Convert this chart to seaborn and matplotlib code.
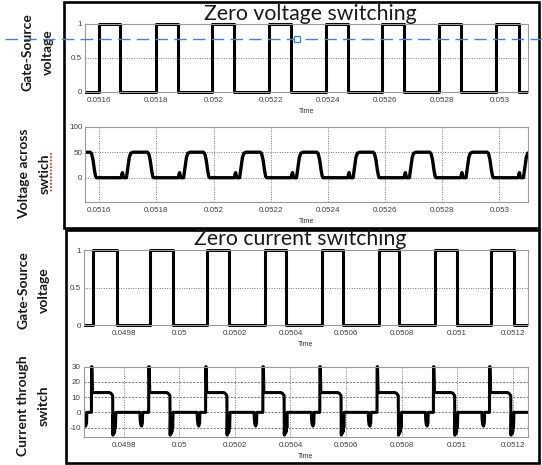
import numpy as np
import pandas as pd
import matplotlib
matplotlib.use('Agg')
import matplotlib.pyplot as plt
import seaborn as sns
from matplotlib.lines import Line2D
from matplotlib.patches import Rectangle
from matplotlib.transforms import Bbox, TransformedBbox

# --- Zero voltage switching ---
zvs_rise = [0.051402, 0.051600, 0.051800, 0.051996, 0.052195, 0.052393,
            0.052590, 0.052788, 0.052989, 0.053187]
zvs_fall = [0.051475, 0.051673, 0.051875, 0.052072, 0.052271, 0.052469,
            0.052667, 0.052867, 0.053067, 0.053262]
# switch voltage around each gate rise: offset in microseconds, level in V
zvs_v_offset = [-32, -27, -22, -17, -13, -10, 77, 79, 81, 83, 85, 95, 100, 105, 110, 118]
zvs_v_level = [50, 47, 35, 15, 3, 0, 0, 7, 10, 5, 0, 0, 20, 40, 48, 50]
zvs_ticks = [0.0516, 0.0518, 0.052, 0.0522, 0.0524, 0.0526, 0.0528, 0.053]
zvs_labels = ['0.0516', '0.0518', '0.052', '0.0522', '0.0524', '0.0526', '0.0528', '0.053']

# --- Zero current switching ---
zcs_rise = [0.049489, 0.049690, 0.049896, 0.050101, 0.050307, 0.050512,
            0.050718, 0.050921, 0.051123, 0.051328]
zcs_fall = [0.049574, 0.049775, 0.049977, 0.050178, 0.050384, 0.050590,
            0.050792, 0.051001, 0.051206, 0.051411]
zcs_i_offset = [-6.5, -6, -4.5, -2.5, 58, 64, 70, 71, 72.5, 74, 75.5, 77, 78.5, 80, 81.5,
                168, 169, 171, 174, 177, 178]
zcs_i_level = [0, 30, 30, 13, 13, 12.5, 11, -15, -1, -14, -2, -13, -3, -10, 0,
               0, -5, -8, -9, -7, 0]
zcs_ticks = [0.0498, 0.05, 0.0502, 0.0504, 0.0506, 0.0508, 0.051, 0.0512]
zcs_labels = ['0.0498', '0.05', '0.0502', '0.0504', '0.0506', '0.0508', '0.051', '0.0512']

gate_ticks = [0, 0.5, 1]
gate_labels = ['0', '0.5', '1']
volt_ticks = [0, 50, 100]
curr_ticks = [-10, 0, 10, 20, 30]


def gate_frame(rises, falls):
    t, v = [], []
    for r, f in zip(rises, falls):
        t += [r, r, f, f]
        v += [0, 1, 1, 0]
    return pd.DataFrame({'Time': t, 'value': v})


def cycle_frame(rises, offsets, levels):
    t, v = [], []
    for r in rises:
        t += [r + o * 1e-6 for o in offsets]
        v += levels
    return pd.DataFrame({'Time': t, 'value': v})


sns.set_style('white')
plt.rcParams['font.family'] = ['Liberation Sans', 'DejaVu Sans']

W, H = 542, 465
fig = plt.figure(figsize=(W / 100, H / 100), dpi=100)


def px_axes(x0, y0, x1, y1):
    return fig.add_axes([x0 / W, 1 - y1 / H, (x1 - x0) / W, (y1 - y0) / H])


def style(ax, xlim, ylim, xticks, xlabels, yticks, ylabels, vgrid):
    ax.set_xlim(xlim)
    ax.set_ylim(ylim)
    ax.set_xticks(xticks)
    ax.set_xticklabels(xlabels)
    ax.set_yticks(yticks)
    ax.set_yticklabels(ylabels)
    ax.set_xlabel('Time', fontsize=5, color='#333333', labelpad=3)
    ax.set_ylabel('')
    for s in ax.spines.values():
        s.set_color('#9a9a9a')
        s.set_linewidth(0.8)
    ax.tick_params(direction='in', length=2, width=0.5, color='#9a9a9a',
                   labelsize=5.8, labelcolor='#404040', pad=3.5)
    ax.tick_params(axis='y', pad=2)
    ax.grid(False)
    ax.yaxis.grid(True, ls=(0, (1, 1.5)), color='#777777', lw=0.7)
    if vgrid:
        ax.xaxis.grid(True, ls=(0, (1, 1.5)), color='#777777', lw=0.7)


def loose_clip(ax):
    line = ax.lines[-1]
    line.set_clip_box(TransformedBbox(Bbox([[0, -0.08], [1, 1.08]]), ax.transAxes))


zvs_xlim = (0.05155, 0.0531)
zcs_xlim = (0.049655, 0.051254)

# panel 1: ZVS gate
ax1 = px_axes(85, 24, 528, 91.7)
sns.lineplot(data=gate_frame(zvs_rise, zvs_fall), x='Time', y='value', ax=ax1,
             estimator=None, sort=False, color='black', linewidth=2.2)
style(ax1, zvs_xlim, (0, 1), zvs_ticks, zvs_labels, gate_ticks, gate_labels, False)
loose_clip(ax1)

# panel 2: ZVS switch voltage
ax2 = px_axes(85, 126.7, 528, 201.7)
sns.lineplot(data=cycle_frame(zvs_rise, zvs_v_offset, zvs_v_level), x='Time', y='value',
             ax=ax2, estimator=None, sort=False, color='black', linewidth=2.4)
style(ax2, zvs_xlim, (-47, 100), zvs_ticks, zvs_labels, volt_ticks,
      [str(v) for v in volt_ticks], True)

# panel 3: ZCS gate
ax3 = px_axes(83.5, 250, 527.7, 325)
sns.lineplot(data=gate_frame(zcs_rise, zcs_fall), x='Time', y='value', ax=ax3,
             estimator=None, sort=False, color='black', linewidth=2.2)
style(ax3, zcs_xlim, (0, 1), zcs_ticks, zcs_labels, gate_ticks, gate_labels, False)
loose_clip(ax3)

# panel 4: ZCS switch current
ax4 = px_axes(83.5, 366.7, 527.7, 436.7)
sns.lineplot(data=cycle_frame(zcs_rise, zcs_i_offset, zcs_i_level), x='Time', y='value',
             ax=ax4, estimator=None, sort=False, color='black', linewidth=2.2)
style(ax4, zcs_xlim, (-16, 30), zcs_ticks, zcs_labels, curr_ticks,
      [str(v) for v in curr_ticks], True)
ax4.yaxis.grid(True, ls=(0, (2, 1.5)), color='#777777', lw=0.7)
loose_clip(ax4)

# titles and side labels
title_font = dict(family=['Lato', 'DejaVu Sans'], fontsize=15.3, color='#1a1a1a')
fig.text(310.7 / W, 1 - 20 / H, 'Zero voltage switching', ha='center', va='baseline', **title_font)
fig.text(300 / W, 1 - 245 / H, 'Zero current switching', ha='center', va='baseline', **title_font)

side_font = dict(family=['Lato', 'DejaVu Sans'], fontsize=10, fontweight='bold',
                 rotation=90, ha='center', va='center', multialignment='center',
                 linespacing=1.85, color='#1a1a1a')
fig.text(38 / W, 1 - 52 / H, 'Gate-Source\nvoltage', **side_font)
fig.text(34 / W, 1 - 174 / H, 'Voltage across\nswtich', **side_font)
fig.text(34 / W, 1 - 290 / H, 'Gate-Source\nvoltage', **side_font)
fig.text(33 / W, 1 - 406 / H, 'Current through\nswitch', **side_font)

# spell-check squiggle under "swtich"
fig.add_artist(Line2D([51 / W, 51 / W], [1 - 153 / H, 1 - 193 / H], transform=fig.transFigure,
                      color='#e02020', lw=1.2, ls=(0, (1, 1))))

# black frames around the two groups
fig.add_artist(Rectangle((64 / W, 1 - 228 / H), 475 / W, 226 / H, transform=fig.transFigure,
                         fill=False, ec='black', lw=1.9))
fig.add_artist(Rectangle((66 / W, 1 - 463 / H), 473 / W, 233 / H, transform=fig.transFigure,
                         fill=False, ec='black', lw=1.9))

# blue dashed guide line with handle
fig.add_artist(Line2D([5 / W, 1], [1 - 39 / H, 1 - 39 / H], transform=fig.transFigure,
                      color='#4f81bd', lw=1.0, ls=(0, (9, 4.5)), zorder=10))
fig.add_artist(Line2D([297 / W], [1 - 39 / H], transform=fig.transFigure, marker='s',
                      markersize=5, mfc='white', mec='#4f81bd', mew=0.9, ls='none', zorder=11))

fig.savefig('out.png', dpi=100)
